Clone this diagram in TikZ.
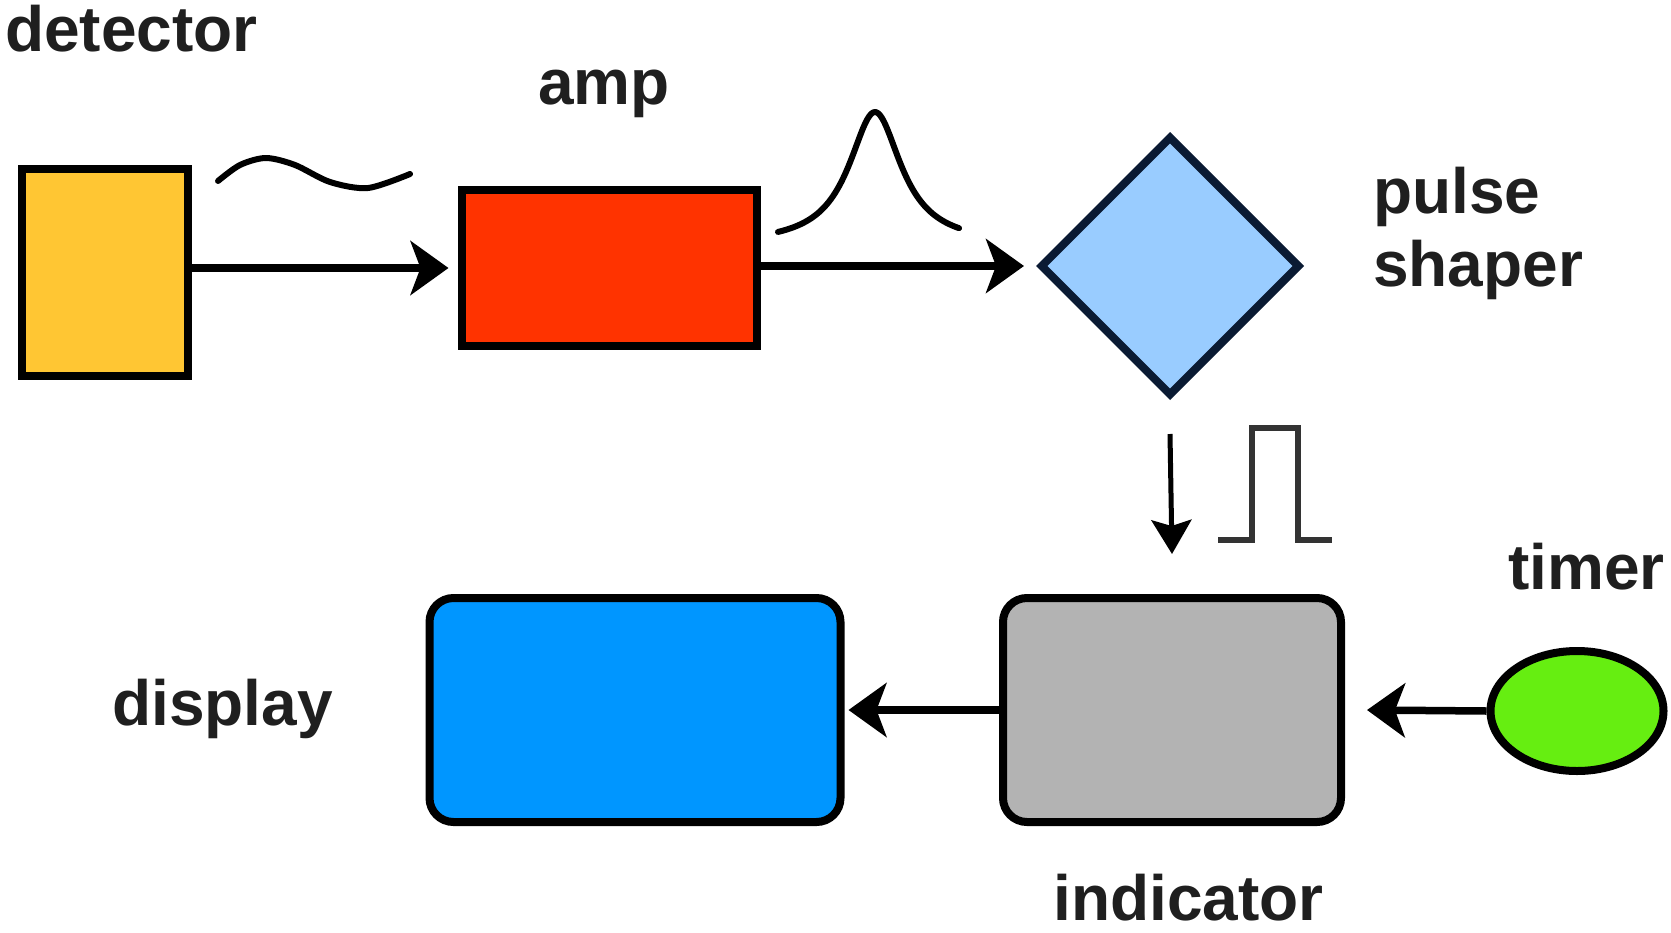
\documentclass[tikz,border=0pt]{standalone}
\usepackage{fontspec}
\setmainfont{Liberation Sans}
\usetikzlibrary{shapes.geometric,arrows.meta}
\definecolor{detfill}{HTML}{FFC633}
\definecolor{ampfill}{HTML}{FF3300}
\definecolor{shaperfill}{HTML}{99CCFF}
\definecolor{shaperline}{HTML}{0A1A33}
\definecolor{indfill}{HTML}{B3B3B3}
\definecolor{dispfill}{HTML}{0096FF}
\definecolor{timerfill}{HTML}{66EE11}

\begin{document}
\begin{tikzpicture}[x=1pt,y=-1pt]
\tikzstyle{every node}+=[inner sep=0pt]
\tikzstyle{block}=[draw=black, line width=8pt]
\tikzstyle{lbl}=[font=\fontsize{64}{72}\selectfont\bfseries, text=black!88, anchor=base west]
\tikzstyle{arr}=[line width=7.5pt, -{Stealth[length=38pt,width=54pt,inset=10pt]}]
\tikzstyle{sig}=[line width=6pt, line join=round, line cap=round]
\useasboundingbox (0,0) rectangle (1671,932);
\node[block, fill=detfill, minimum width=166pt, minimum height=207pt] (det) at (105,272) {};
\node[block, fill=ampfill, minimum width=295pt, minimum height=156pt] (amp) at (609,268) {};
\node[block, diamond, aspect=1, draw=shaperline, fill=shaperfill, minimum size=260pt] (shaper) at (1170,266) {};
\node[block, rounded corners=24pt, fill=indfill, minimum width=338pt, minimum height=224pt] (ind) at (1172,710) {};
\node[block, rounded corners=24pt, fill=dispfill, minimum width=411pt, minimum height=224pt] (disp) at (635,710) {};
\node[block, ellipse, fill=timerfill, minimum width=173pt, minimum height=120pt] (timer) at (1577,711) {};
\draw[arr] (det.east |- amp.west) -- ([xshift=-9pt]amp.west);
\draw[arr] (amp.east |- shaper.west) -- ([xshift=-12pt]shaper.west);
\draw[arr, line width=5pt, -{Stealth[length=34pt,width=40pt,inset=6pt]}] ([yshift=-34pt]shaper.south) -- ([yshift=40pt]ind.north);
\draw[arr] (ind.west) -- ([xshift=4pt]disp.east);
\draw[arr] (timer.west) -- ([xshift=22pt]ind.east);
\draw[sig] plot[smooth] coordinates {(218,181) (240,165) (266,158) (295,165) (330,182) (368,188) (410,174)};
\draw[sig] plot[domain=-97:84, samples=90, smooth] ({875+\x},{245-133/(1+(\x/32)^2)});
\draw[sig, draw=black!80, line cap=butt, line join=miter] (1218,540) -- (1252,540) -- (1252,428) -- (1298,428) -- (1298,540) -- (1332,540);
\node[lbl] (detlbl) at (5,51) {detector};
\node[lbl] (amplbl) at (538,104) {amp};
\node[lbl] (pulselbl) at (1373,213) {pulse};
\node[lbl] (shaperlbl) at (1373,286) {shaper};
\node[lbl] (timerlbl) at (1508,589) {timer};
\node[lbl] (displbl) at (112,725) {display};
\node[lbl] (indlbl) at (1053,920) {indicator};
\end{tikzpicture}
\end{document}
